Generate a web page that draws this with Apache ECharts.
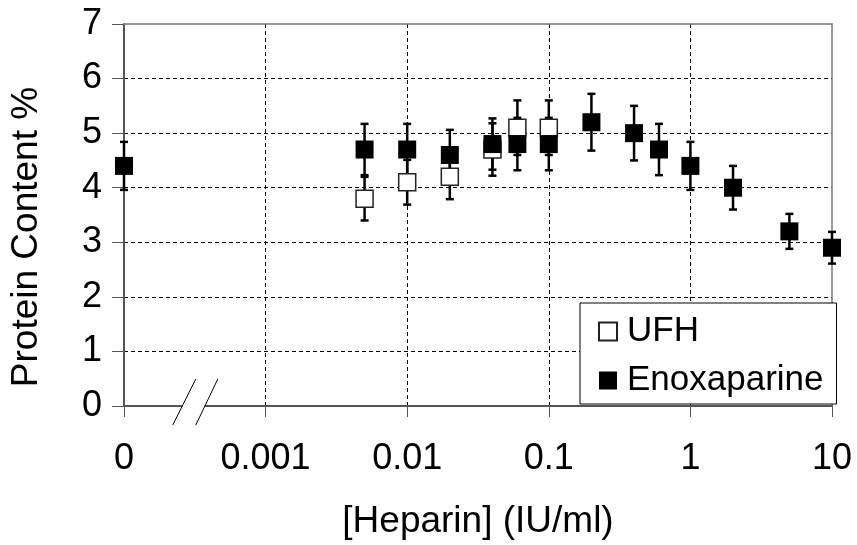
<!DOCTYPE html>
<html>
<head>
<meta charset="utf-8">
<script src="https://cdn.jsdelivr.net/npm/echarts@6/dist/echarts.min.js"></script>
<style>
  html, body { margin: 0; padding: 0; background: #fff; }
  #main { width: 857px; height: 545px; }
</style>
</head>
<body>
<div id="main"></div>
<script>
// tick labels on the broken log axis: "0" then one decade per step
var xLabels = ['0', '0.001', '0.01', '0.1', '1', '10'];
var yTicks = [0, 1, 2, 3, 4, 5, 6, 7];

// UFH
var ufhDose = [0.005, 0.01, 0.02, 0.04, 0.06, 0.1];
var ufhMean = [3.8, 4.1, 4.2, 4.7, 5.1, 5.1];
var ufhErr  = [0.4, 0.41, 0.41, 0.48, 0.5, 0.5];

// Enoxaparine
var enoxDose = [0, 0.005, 0.01, 0.02, 0.04, 0.06, 0.1, 0.2, 0.4, 0.6, 1, 2, 5, 10];
var enoxMean = [4.4, 4.7, 4.7, 4.6, 4.8, 4.8, 4.8, 5.2, 5.0, 4.7, 4.4, 4.0, 3.2, 2.9];
var enoxErr  = [0.44, 0.47, 0.47, 0.46, 0.47, 0.48, 0.48, 0.52, 0.5, 0.47, 0.44, 0.4, 0.32, 0.29];

var FONT = '"Liberation Sans", Arial, sans-serif';

// 0 sits one step left of 0.001, the rest is log10
function doseToPos(d) {
    if (d === 0) return 0;
    return Math.log10(d) + 4;
}

function points(dose, mean) {
    return dose.map(function (d, i) { return [doseToPos(d), mean[i]]; });
}
function bars(dose, mean, err) {
    return dose.map(function (d, i) { return [doseToPos(d), mean[i] - err[i], mean[i] + err[i]]; });
}

// error bar: vertical line with caps
function renderErr(params, api) {
    var x = api.value(0);
    var lo = api.coord([x, api.value(1)]);
    var hi = api.coord([x, api.value(2)]);
    var w = 4;
    var style = { stroke: '#000', lineWidth: 2.5 };
    return {
        type: 'group',
        children: [
            { type: 'line', shape: { x1: lo[0], y1: lo[1], x2: hi[0], y2: hi[1] }, style: style },
            { type: 'line', shape: { x1: lo[0] - w, y1: lo[1], x2: lo[0] + w, y2: lo[1] }, style: style },
            { type: 'line', shape: { x1: hi[0] - w, y1: hi[1], x2: hi[0] + w, y2: hi[1] }, style: style }
        ]
    };
}

var myChart = echarts.init(document.getElementById('main'));

var option = {
    animation: false,
    backgroundColor: '#fff',
    textStyle: { fontFamily: FONT },
    grid: { left: 124, right: 25, top: 24, bottom: 138 },
    legend: {
        orient: 'vertical',
        left: 580,
        top: 303,
        width: 255,
        padding: [11, 13, 6, 18],
        itemWidth: 18,
        itemHeight: 18,
        itemGap: 14,
        backgroundColor: '#fff',
        borderColor: '#000',
        borderWidth: 1,
        borderRadius: 0,
        icon: 'rect',
        textStyle: { fontFamily: FONT, fontSize: 35, color: '#000', padding: [0, 0, 0, 5] },
        data: ['UFH', 'Enoxaparine']
    },
    xAxis: [{
        type: 'value',
        min: 0,
        max: 5,
        interval: 1,
        name: '[Heparin] (IU/ml)',
        nameLocation: 'middle',
        nameGap: 97,
        nameTextStyle: { fontFamily: FONT, fontSize: 37, color: '#000' },
        axisLine: { lineStyle: { color: '#555', width: 2 } },
        axisTick: { show: true, inside: false, length: 11, lineStyle: { color: '#555', width: 1 } },
        axisLabel: {
            margin: 35,
            fontFamily: FONT,
            fontSize: 36,
            color: '#000',
            formatter: function (v) { return xLabels[Math.round(v)]; }
        },
        splitLine: { show: true, showMinLine: false, showMaxLine: false, lineStyle: { color: '#000', type: [4, 3], width: 1 } }
    }, {
        // top frame
        type: 'value', position: 'top', min: 0, max: 5,
        axisLine: { show: true, onZero: false, lineStyle: { color: '#777', width: 1.5 } },
        axisTick: { show: false }, axisLabel: { show: false }, splitLine: { show: false }
    }],
    yAxis: [{
        type: 'value',
        min: yTicks[0],
        max: yTicks[yTicks.length - 1],
        interval: 1,
        name: 'Protein Content %',
        nameLocation: 'middle',
        nameGap: 79,
        // title sits a bit below the plot centre in the original
        nameTextStyle: { fontFamily: FONT, fontSize: 37, color: '#000', padding: [0, 44, 0, 0] },
        axisLine: { show: true, lineStyle: { color: '#555', width: 2 } },
        axisTick: { show: true, inside: false, length: 12, lineStyle: { color: '#555', width: 1 } },
        axisLabel: { margin: 22, fontFamily: FONT, fontSize: 36, color: '#000' },
        splitLine: { show: true, showMinLine: false, showMaxLine: false, lineStyle: { color: '#000', type: [4, 3], width: 1 } }
    }, {
        // right frame
        type: 'value', position: 'right', min: 0, max: 7,
        axisLine: { show: true, onZero: false, lineStyle: { color: '#777', width: 1.5 } },
        axisTick: { show: false }, axisLabel: { show: false }, splitLine: { show: false }
    }],
    series: [
        {
            name: 'Enoxaparine err',
            type: 'custom',
            renderItem: renderErr,
            data: bars(enoxDose, enoxMean, enoxErr),
            z: 2
        },
        {
            name: 'UFH err',
            type: 'custom',
            renderItem: renderErr,
            data: bars(ufhDose, ufhMean, ufhErr),
            z: 3
        },
        {
            name: 'UFH',
            type: 'scatter',
            symbol: 'rect',
            symbolSize: 17,
            itemStyle: { color: '#fff', borderColor: '#222', borderWidth: 1.5, opacity: 1 },
            data: points(ufhDose, ufhMean),
            z: 4
        },
        {
            name: 'Enoxaparine',
            type: 'scatter',
            symbol: 'rect',
            symbolSize: 18,
            itemStyle: { color: '#000', opacity: 1 },
            data: points(enoxDose, enoxMean),
            z: 5
        }
    ]
};

myChart.setOption(option);

// axis break marks between 0 and 0.001
var mid = myChart.convertToPixel({ xAxisIndex: 0 }, 0.5);
var base = myChart.convertToPixel({ yAxisIndex: 0 }, 0);
myChart.setOption({
    graphic: [
        { type: 'rect', shape: { x: mid - 12, y: base - 3, width: 22, height: 6 }, style: { fill: '#fff' }, z: 50 },
        { type: 'line', shape: { x1: mid - 22, y1: base + 19, x2: mid + 1, y2: base - 27 }, style: { stroke: '#000', lineWidth: 1 }, z: 51 },
        { type: 'line', shape: { x1: mid + 1, y1: base + 19, x2: mid + 23, y2: base - 27 }, style: { stroke: '#000', lineWidth: 1 }, z: 51 }
    ]
});
</script>
</body>
</html>
